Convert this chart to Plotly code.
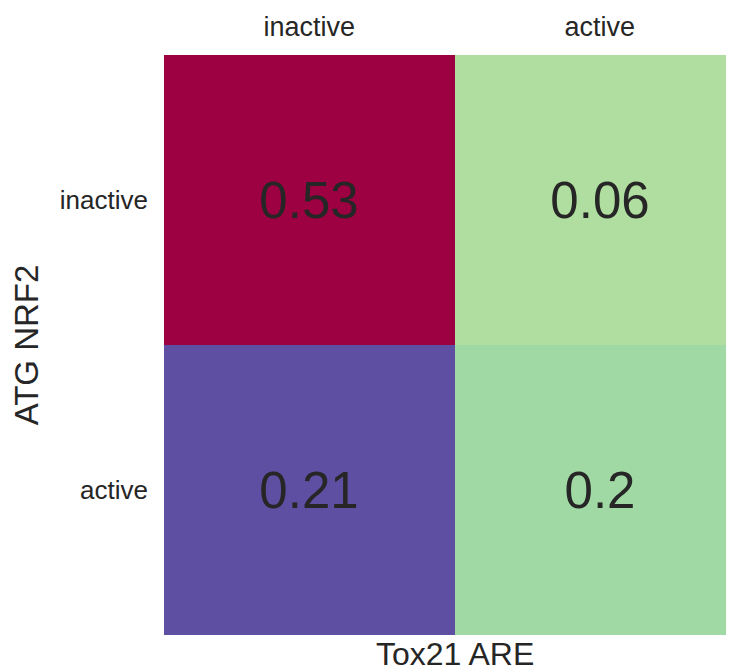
import plotly.graph_objects as go

x_labels = ["inactive", "active"]
y_labels = ["inactive", "active"]
values = [[0.53, 0.06],
          [0.21, 0.20]]
x_title = "Tox21 ARE"
y_title = "ATG NRF2"

# colour assigned to each distinct value (ascending)
value_colors = {0.06: "#b0dea0", 0.20: "#a0d9a4", 0.21: "#5e4fa2", 0.53: "#9e0142"}

vals_sorted = sorted(value_colors)
vmin, vmax = vals_sorted[0], vals_sorted[-1]
colorscale = [[(v - vmin) / (vmax - vmin), value_colors[v]] for v in vals_sorted]

FONT = "Liberation Sans, Arial, sans-serif"
TXT = "#262626"

fig = go.Figure(go.Heatmap(
    z=values, x=[0, 1], y=[0, 1],
    colorscale=colorscale, zmin=vmin, zmax=vmax, showscale=False,
    text=[[f"{v:g}" for v in row] for row in values],
    texttemplate="%{text}",
    textfont=dict(size=51, color=TXT, family=FONT),
    hoverinfo="skip",
))

# the page body adds an 8px offset; size and margins compensate for it
W, H = 726, 661
L, T, B, R = 156, 47, 34, 0
cell_w = 290.5
plot_w = W - L - R
fig.update_layout(
    width=W, height=H,
    margin=dict(l=L, r=R, t=T, b=B),
    plot_bgcolor="white", paper_bgcolor="white",
    font=dict(family=FONT, color=TXT),
    xaxis=dict(side="top", range=[-0.5, -0.5 + plot_w / cell_w], automargin=False,
               tickvals=[0, 1], ticktext=x_labels, showgrid=False,
               zeroline=False, showline=False, ticks="",
               tickfont=dict(size=27, color=TXT), ticklabelstandoff=13),
    yaxis=dict(range=[1.5, -0.5], tickvals=[0, 1], ticktext=y_labels, automargin=False,
               showgrid=False, zeroline=False, showline=False, ticks="",
               tickfont=dict(size=26, color=TXT), ticklabelstandoff=15,
               title=dict(text=y_title, font=dict(size=33, color=TXT), standoff=20)),
    annotations=[dict(text=x_title, x=0.5, xref="x", y=0, yref="paper",
                      yanchor="top", yshift=1, showarrow=False,
                      font=dict(size=32, color=TXT, family=FONT))],
)

fig.write_html("out.html")
